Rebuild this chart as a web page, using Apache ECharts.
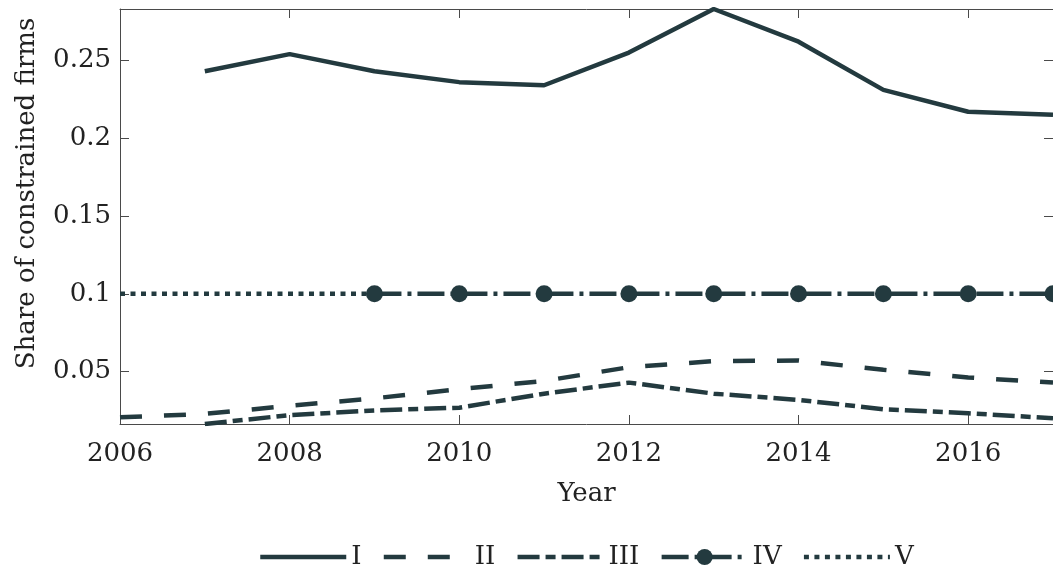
<!DOCTYPE html>
<html>
<head>
<meta charset="utf-8">
<title>Share of constrained firms</title>
<script src="https://cdn.jsdelivr.net/npm/echarts@6.0.0/dist/echarts.min.js"></script>
<style>
  html, body { margin: 0; padding: 0; background: #fff; }
  #chart { width: 1053px; height: 571px; }
</style>
</head>
<body>
<div id="chart"></div>
<script>
// data
const years = [2006, 2007, 2008, 2009, 2010, 2011, 2012, 2013, 2014, 2015, 2016, 2017];
const seriesI = [null, 0.243, 0.254, 0.243, 0.236, 0.234, 0.255, 0.283, 0.262, 0.231, 0.217, 0.215];
const seriesII = [0.0206, 0.0228, 0.028, 0.0328, 0.0387, 0.044, 0.0528, 0.0567, 0.0571, 0.0511, 0.0462, 0.0429];
const seriesIII = [null, 0.0163, 0.022, 0.025, 0.0268, 0.0358, 0.0429, 0.0358, 0.0318, 0.0258, 0.0232, 0.020];
const seriesIV = [null, null, null, 0.1, 0.1, 0.1, 0.1, 0.1, 0.1, 0.1, 0.1, 0.1];
const seriesV = [0.1, 0.1, 0.1, 0.1, null, null, null, null, null, null, null, null];
const seriesNames = ['I', 'II', 'III', 'IV', 'V'];

const xTicks = [2006, 2008, 2010, 2012, 2014, 2016];
const yTicks = [0.05, 0.1, 0.15, 0.2, 0.25];
const yMin = 0.0163;
const yMax = 0.283;

const lineColor = '#233a3f';
const axisColor = '#4a4a4a';
const textColor = '#222';
const font = 'DejaVu Serif';
const fontSize = 26;

const pairs = (vals) => years.map((y, i) => [y, vals[i]]);

const chart = echarts.init(document.getElementById('chart'));

// box around the plot: top and right axes only carry inward ticks
const mirrorAxis = (ticks, extra) => Object.assign({
    type: 'value',
    axisLine: { show: true, lineStyle: { color: axisColor, width: 1 } },
    axisTick: { show: true, inside: true, length: 9, customValues: ticks, lineStyle: { color: axisColor } },
    axisLabel: { show: false },
    splitLine: { show: false }
}, extra);

const lineSeries = (name, vals, dash, extra) => Object.assign({
    name: name,
    type: 'line',
    data: pairs(vals),
    symbol: 'none',
    color: lineColor,
    lineStyle: { color: lineColor, width: 4.5, type: dash, cap: 'butt' },
    z: 3
}, extra);

chart.setOption({
    animation: false,
    backgroundColor: '#fff',
    textStyle: { fontFamily: font },
    grid: { left: 120, right: -2, top: 9, bottom: 147, containLabel: false },
    xAxis: [
        mirrorAxis(xTicks, {
            position: 'bottom', min: 2006, max: 2017,
            name: 'Year', nameLocation: 'middle', nameGap: 57,
            nameTextStyle: { fontFamily: font, fontSize: fontSize, color: textColor },
            axisLabel: {
                show: true, customValues: xTicks, margin: 17,
                fontFamily: font, fontSize: fontSize, color: textColor,
                formatter: (v) => String(v)
            }
        }),
        mirrorAxis(xTicks, { position: 'top', min: 2006, max: 2017 })
    ],
    yAxis: [
        mirrorAxis(yTicks, {
            position: 'left', min: yMin, max: yMax,
            name: 'Share of constrained firms', nameLocation: 'middle', nameGap: 80, nameRotate: 90,
            nameTextStyle: { fontFamily: font, fontSize: fontSize, color: textColor, padding: [0, 0, 0, 46] },
            axisLabel: {
                show: true, customValues: yTicks, margin: 9,
                fontFamily: font, fontSize: fontSize, color: textColor,
                formatter: (v) => String(+v.toFixed(2))
            }
        }),
        mirrorAxis(yTicks, { position: 'right', min: yMin, max: yMax })
    ],
    legend: {
        data: seriesNames.map((n) => n === 'IV' ? { name: n } : { name: n, itemStyle: { opacity: 0 } }),
        left: 253,
        top: 539,
        itemWidth: 86,
        itemHeight: 20,
        itemGap: 20,
        lineStyle: { width: 'inherit' },
        textStyle: { fontFamily: font, fontSize: fontSize, color: textColor }
    },
    series: [
        lineSeries('I', seriesI, 'solid'),
        lineSeries('II', seriesII, [22, 22]),
        lineSeries('III', seriesIII, [22, 6, 10, 6]),
        lineSeries('IV', seriesIV, [27, 6, 4, 6], {
            symbol: 'circle', symbolSize: 17, showSymbol: true,
            itemStyle: { color: lineColor }, z: 4
        }),
        lineSeries('V', seriesV, [5, 5.5])
    ]
});
</script>
</body>
</html>
